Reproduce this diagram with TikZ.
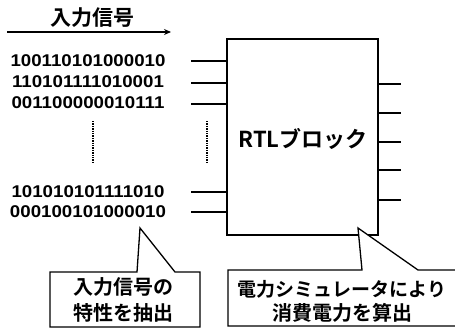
\documentclass[tikz,border=0pt]{standalone}
\usepackage{fontspec}
\newfontfamily\jp{Noto Sans CJK JP}[BoldFont={* Bold}]
\newfontfamily\digits{Liberation Sans}
\usetikzlibrary{arrows.meta}
\begin{document}
\begin{tikzpicture}[x=1pt,y=-1pt,
  bits/.style={font=\digits\bfseries\fontsize{17}{17}\selectfont, inner sep=0pt, xscale=1.1, transform shape},
  jptext/.style={font=\jp\bfseries\fontsize{20}{26}\selectfont, align=center, inner sep=0pt},
  wire/.style={line width=1.3pt},
  dots/.style={line width=2.2pt, dash pattern=on 1.3pt off 1.1pt},
  callout/.style={draw, line width=1.3pt, fill=white}]
\useasboundingbox (0,0) rectangle (455,329);
% title and arrow
\node[jptext, font=\jp\bfseries\fontsize{21}{21}\selectfont] (title) at (92,18) {入力信号};
\coordinate (arrS) at (7,32);
\coordinate (arrE) at (171,32);
\draw[line width=1.3pt, -{Stealth[length=7pt,width=6pt]}] (arrS) -- (arrE);
% bit strings
\node[bits] (b1) at (88,61) {100110101000010};
\node[bits] (b2) at (88,82) {110101111010001};
\node[bits] (b3) at (88,103) {001100000010111};
\node[bits] (b4) at (88,192) {101010101111010};
\node[bits] (b5) at (88,212) {000100101000010};
% dotted lines
\coordinate (d1a) at (93,121); \coordinate (d1b) at (93,163);
\coordinate (d2a) at (207,121); \coordinate (d2b) at (207,163);
\draw[dots] (d1a) -- (d1b);
\draw[dots] (d2a) -- (d2b);
% RTL block
\node[draw, line width=1.4pt, minimum width=151pt, minimum height=196pt, inner sep=0pt] (rtl) at (302.5,137) {};
\node[jptext, font=\jp\bfseries\fontsize{22}{22}\selectfont] (rtllabel) at (303,139) {RTLブロック};
% input stubs
\foreach \y [count=\i] in {61,83,104,192,212} {
  \coordinate (in\i) at (191,\y);
  \draw[wire] (in\i) -- (in\i -| rtl.west);
}
% output stubs
\foreach \y [count=\i] in {84,113,142,170,200} {
  \coordinate (out\i) at (401,\y);
  \draw[wire] (out\i -| rtl.east) -- (out\i);
}
% callout 1
\draw[callout] (50,272) -- (137,272) -- (140,228) -- (175,272) -- (200,272) -- (200,327) -- (50,327) -- cycle;
\node[jptext] (c1) at (123,300) {入力信号の\\特性を抽出};
% callout 2
\draw[callout] (228,270) -- (362,270) -- (358,228) -- (418,270) -- (470,270) -- (470,326) -- (228,326) -- cycle;
\node[jptext, font=\jp\bfseries\fontsize{19}{24}\selectfont] (c2) at (342,301) {電力シミュレータにより\\\fontsize{20}{24}\selectfont 消費電力を算出};
\end{tikzpicture}
\end{document}
